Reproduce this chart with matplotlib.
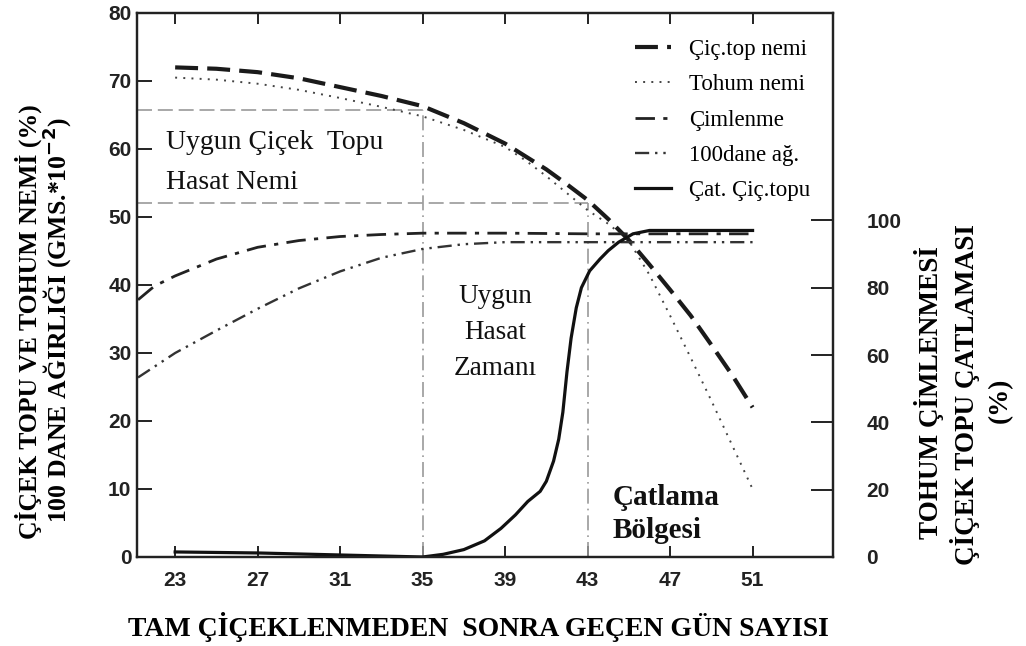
import matplotlib
matplotlib.use("Agg")
import matplotlib.pyplot as plt

# --- data ---
# left axis: moisture (%) and 100-seed weight
days_bud = [23, 25, 27, 29, 31, 33, 35, 37, 39, 41, 42, 43, 44, 45, 46, 47, 48, 49, 50, 51]
bud_moist = [72.0, 71.8, 71.3, 70.4, 69.1, 67.8, 66.3, 63.8, 60.8, 57.0, 54.8, 52.5, 49.7, 46.6, 43.0, 39.3, 35.5, 31.2, 26.8, 22.0]

days_seed = [23, 25, 27, 29, 31, 33, 35, 37, 39, 40, 41, 42, 43, 44, 45, 46, 47, 48, 49, 50, 51]
seed_moist = [70.5, 70.2, 69.6, 68.7, 67.5, 66.2, 64.8, 62.8, 60.3, 58.3, 56.0, 53.5, 51.0, 49.0, 46.5, 41.5, 35.5, 29.3, 23.0, 16.5, 10.0]

days_wt = [21.2, 23, 25, 27, 29, 31, 33, 35, 37, 39, 43, 47, 51]
seed_wt = [26.4, 30.0, 33.3, 36.5, 39.5, 42.0, 44.0, 45.3, 46.0, 46.3, 46.3, 46.3, 46.3]

# right axis: germination and bud cracking (%)
days_germ = [21.2, 22, 23, 25, 27, 29, 31, 33, 35, 39, 43, 47, 51]
germ = [76.4, 80.5, 83.5, 88.5, 92.0, 94.0, 95.2, 95.8, 96.2, 96.2, 96.0, 96.0, 96.0]

days_crack = [23, 27, 31, 35, 36, 37, 38, 38.8, 39.5, 40.1, 40.7, 41.0, 41.35, 41.6, 41.8,
              42.0, 42.2, 42.45, 42.7, 43.1, 43.6, 44.0, 44.5, 45.2, 46, 51]
crack = [1.5, 1.2, 0.6, 0.0, 0.8, 2.2, 4.8, 8.5, 12.5, 16.5, 19.5, 22.5, 28.5, 35.0, 43.0,
         55.0, 65.0, 74.0, 80.0, 85.0, 88.5, 91.0, 93.5, 96.0, 97.0, 97.0]

# guide lines
good_bud_moist = 65.7
limit_moist = 52.0
harvest_start = 35
harvest_end = 43

x_ticks = [23, 27, 31, 35, 39, 43, 47, 51]
left_ticks = [0, 10, 20, 30, 40, 50, 60, 70, 80]
right_ticks = [0, 20, 40, 60, 80, 100]

labels = ["Çiç.top nemi", "Tohum nemi", "Çimlenme", "100dane ağ.", "Çat. Çiç.topu"]

serif = ["Liberation Serif", "DejaVu Serif"]
sans = ["Liberation Sans", "DejaVu Sans"]

fig = plt.figure(figsize=(10.26, 6.46), dpi=100)
ax = fig.add_axes([137/1026, 1-557/646, (833-137)/1026, (557-13)/646])
ax2 = ax.twinx()

ax.set_xlim(21.15, 54.9)
ax.set_ylim(0, 80)
ax2.set_ylim(0, 161.6)

gray = "#9a9a9a"
ax.plot([21.15, harvest_start], [good_bud_moist]*2, color=gray, lw=1.2, dashes=(9, 3.5))
ax.plot([21.15, harvest_end], [limit_moist]*2, color=gray, lw=1.2, dashes=(9, 3.5))
ax.plot([harvest_start]*2, [0, good_bud_moist], color=gray, lw=1.2, dashes=(9, 3, 1, 3))
ax.plot([harvest_end]*2, [0, limit_moist], color=gray, lw=1.2, dashes=(9, 3, 1, 3))

l1, = ax.plot(days_bud, bud_moist, color="#1a1a1a", lw=3.0, dashes=(5.5, 2.2))
l2, = ax.plot(days_seed, seed_moist, color="#444444", lw=1.4, dashes=(1, 3.2))
l4, = ax.plot(days_wt, seed_wt, color="#333333", lw=1.7, dashes=(6, 2.5, 1, 2.5, 1, 2.5))
l3, = ax2.plot(days_germ, germ, color="#222222", lw=2.0, dashes=(7, 3, 1.5, 3))
l5, = ax2.plot(days_crack, crack, color="#111111", lw=2.3)

# axes styling
for a in (ax, ax2):
    for s in a.spines.values():
        s.set_linewidth(1.6)
        s.set_color("#222222")

ax.set_xticks(x_ticks)
ax.set_yticks(left_ticks)
ax2.set_yticks(right_ticks)
ax.tick_params(axis="x", direction="in", length=8, width=1.4, top=True, pad=10,
               labelsize=15, colors="#222222")
ax.tick_params(axis="y", direction="in", length=11, width=1.4, pad=4,
               labelsize=15, colors="#222222")
ax2.tick_params(axis="y", direction="in", length=16, width=1.4, pad=24,
                labelsize=15, colors="#222222")
for lab in ax.get_xticklabels() + ax.get_yticklabels() + ax2.get_yticklabels():
    lab.set_fontfamily(sans)
    lab.set_fontweight("bold")

# annotations
ax.text(22.55, 58.0, "Uygun Çiçek  Topu\nHasat Nemi", fontsize=20, family=serif,
        color="#111111", linespacing=1.75, va="center", ha="left")
ax.text(38.5, 33.0, "Uygun\nHasat\nZamanı", fontsize=19.5, family=serif,
        color="#111111", linespacing=1.6, ha="center", va="center")
ax.text(44.2, 6.3, "Çatlama\nBölgesi", fontsize=21, family=serif, fontweight="bold",
        color="#111111", linespacing=1.3, ha="left", va="center")

handles = [l1, l2, l3, l4, l5]
ax2.legend(handles, labels, loc="upper left", bbox_to_anchor=(635/1026, 1-39/646),
           bbox_transform=fig.transFigure, frameon=False,
           prop={"family": serif, "size": 16.5}, handlelength=1.55,
           handletextpad=0.8, labelspacing=0.62, borderaxespad=0, borderpad=0)

# axis titles
fig.text(478/1026, 1-627/646, "TAM ÇİÇEKLENMEDEN  SONRA GEÇEN GÜN SAYISI",
         ha="center", va="center", fontsize=20, fontweight="bold", family=serif)
fig.text(28/1026, 1-322/646, "ÇİÇEK TOPU VE TOHUM NEMİ (%)", rotation=90,
         ha="center", va="center", fontsize=18.5, fontweight="bold", family=serif)
fig.text(57/1026, 1-320/646, r"100 DANE AĞIRLIĞI (GMS.*10$^{\mathbf{-2}}$)", rotation=90,
         ha="center", va="center", fontsize=18.5, fontweight="bold", family=serif)
fig.text(929/1026, 1-393/646, "TOHUM ÇİMLENMESİ", rotation=90,
         ha="center", va="center", fontsize=19.5, fontweight="bold", family=serif)
fig.text(965/1026, 1-395/646, "ÇİÇEK TOPU ÇATLAMASI", rotation=90,
         ha="center", va="center", fontsize=19.5, fontweight="bold", family=serif)
fig.text(1000/1026, 1-400/646, "(%)", rotation=90,
         ha="center", va="center", fontsize=19.5, fontweight="bold", family=serif)

fig.savefig("out.png", dpi=100)
